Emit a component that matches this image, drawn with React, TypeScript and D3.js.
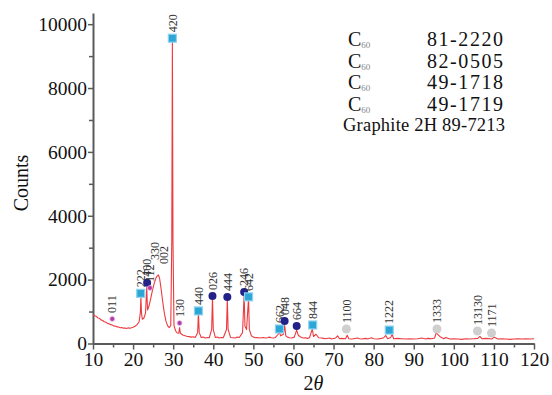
import { useEffect, useRef } from "react";
import * as d3 from "d3";

const WIDTH = 552;
const HEIGHT = 395;
const X_RANGE = [93, 534];
const Y_RANGE = [343.5, 13];
const SERIF = "Liberation Serif";
const AXIS_COLOR = "#5a5a5a";
const LINE_COLOR = "#ec3a3f";
const TICK_FONT_SIZE = "19.5px";
const PEAK_FONT_SIZE = "12px";

// XRD pattern
const TWO_THETA = [
  10, 10.4, 10.8, 11.2, 11.6, 12, 12.4, 12.8, 13.2, 13.6, 14, 14.4, 14.8, 15.2,
  15.6, 16, 16.4, 16.8, 17.2, 17.6, 18, 18.4, 18.8, 19.2, 19.6, 20, 20.5, 21,
  21.5, 21.8, 21.95, 22.1, 22.3, 22.7, 23.1, 23.4, 23.6, 23.9, 24.3, 24.8, 25.3,
  25.8, 26.3, 26.6, 27.0, 27.4, 27.8, 28.2, 28.6, 29.0, 29.4, 29.65, 29.8,
  29.95, 30.2, 30.6, 31.0, 31.4, 31.6, 31.8, 32.5, 33.0, 33.5, 34.0, 34.5, 35.0,
  35.5, 36.1, 36.3, 36.5, 37, 37.5, 38, 38.5, 39, 39.6, 39.8, 40.0, 40.5, 41,
  41.5, 42, 42.5, 43.3, 43.5, 43.7, 44.3, 45, 45.5, 46, 46.5, 47.3, 47.7, 47.9,
  48.3, 48.8, 49.0, 49.5, 50, 50.5, 51, 51.5, 52, 52.5, 53, 53.5, 54, 54.5, 55,
  55.5, 56.2, 56.5, 56.8, 57.5, 57.8, 58.1, 58.5, 59, 59.5, 60.2, 60.8, 61.2,
  61.6, 62, 62.5, 63, 63.5, 64, 64.7, 65, 65.6, 66.3, 67, 67.5, 68, 69, 69.5,
  70.5, 71, 71.5, 72, 73, 73.4, 73.8, 74.5, 75, 76, 76.5, 77, 78, 78.5, 79.5,
  80, 81, 82, 82.5, 83, 83.5, 84, 84.3, 84.6, 85, 86, 87, 88, 89, 90, 91, 92,
  93, 93.5, 94.5, 95.2, 95.6, 96.5, 97.5, 98, 99, 100, 101, 102, 103, 104, 105,
  106, 106.5, 107, 108, 109.5, 110, 111, 112, 113, 114, 115, 116, 117, 118,
  119, 120,
];
const COUNTS = [
  900, 870, 850, 800, 790, 740, 720, 680, 670, 630, 620, 590, 580, 550, 545,
  520, 515, 495, 500, 480, 485, 470, 490, 475, 495, 510, 540, 590, 680, 950,
  1450, 950, 760, 800, 950, 1750, 1050, 1150, 1350, 1650, 1900, 2080, 2150,
  2050, 1700, 1300, 950, 700, 560, 500, 560, 3200, 9500, 3200, 560, 400, 330,
  320, 500, 320, 260, 240, 220, 215, 200, 210, 190, 340, 960, 340, 190, 200,
  170, 190, 180, 440, 1450, 440, 190, 200, 170, 190, 180, 440, 1400, 440, 190,
  180, 170, 200, 190, 340, 1560, 540, 440, 1420, 440, 240, 200, 180, 190, 170,
  180, 190, 170, 180, 200, 180, 170, 190, 290, 360, 240, 290, 560, 240, 200,
  180, 170, 200, 420, 260, 220, 190, 170, 180, 160, 180, 460, 220, 290, 180,
  170, 160, 150, 170, 140, 170, 240, 150, 160, 150, 260, 150, 140, 150, 170,
  150, 140, 160, 140, 180, 150, 140, 160, 180, 250, 150, 170, 200, 290, 150,
  160, 150, 140, 150, 140, 150, 170, 140, 160, 150, 170, 330, 220, 150, 190,
  140, 150, 140, 130, 150, 140, 150, 160, 220, 150, 160, 140, 200, 140, 150,
  140, 130, 140, 150, 140, 150, 140, 150, 140,
];

// indexed reflections
const PEAK_LABELS = [
  "011", "222", "400", "112", "330", "002", "420", "130", "440", "026", "444",
  "246", "642", "662", "048", "664", "844", "1100", "1222", "1333", "13130",
  "1171",
];
const PEAK_THETA = [
  14.8, 21.9, 23.5, 24.2, 25.5, 27.6, 29.8, 31.6, 36.3, 39.8, 43.5, 47.7, 48.8,
  56.5, 57.8, 60.8, 64.8, 73.2, 83.9, 95.8, 105.9, 109.4,
];
const PEAK_COUNTS = [
  770, 1570, 1900, 1740, 2430, 2300, 9560, 640, 1020, 1490, 1460, 1610, 1460,
  455, 705, 550, 580, 455, 420, 455, 390, 330,
];
const PEAK_TYPES = [
  "dot", "square", "circle", "dot", "none", "none", "square", "dot", "square",
  "circle", "circle", "circle", "square", "square", "circle", "circle",
  "square", "gray", "square", "gray", "gray", "gray",
];

const X_TICKS = [10, 20, 30, 40, 50, 60, 70, 80, 90, 100, 110, 120];
const Y_TICKS = [0, 2000, 4000, 6000, 8000, 10000];

const LEGEND_CODES = ["81-2220", "82-0505", "49-1718", "49-1719"];
const GRAPHITE_LABEL = "Graphite 2H 89-7213";

export default function App() {
  const svgRef = useRef<SVGSVGElement>(null);

  useEffect(() => {
    if (!svgRef.current) return;
    const svg = d3.select(svgRef.current);
    svg.selectAll("*").remove();

    const x = d3.scaleLinear().domain([10, 120]).range(X_RANGE);
    const y = d3.scaleLinear().domain([0, 10350]).range(Y_RANGE);

    // minor ticks
    const minorX = d3.range(15, 120, 10);
    const minorY = d3.range(1000, 10001, 2000);

    svg
      .append("g")
      .attr("transform", `translate(0,${Y_RANGE[0]})`)
      .call(d3.axisBottom(x).tickValues(minorX).tickSize(4).tickFormat(() => ""))
      .call((g) => g.select(".domain").remove())
      .call((g) =>
        g.selectAll(".tick line").attr("stroke", AXIS_COLOR).attr("stroke-width", 1.5)
      );

    svg
      .append("g")
      .attr("transform", `translate(${X_RANGE[0]},0)`)
      .call(d3.axisLeft(y).tickValues(minorY).tickSize(4).tickFormat(() => ""))
      .call((g) => g.select(".domain").remove())
      .call((g) =>
        g.selectAll(".tick line").attr("stroke", AXIS_COLOR).attr("stroke-width", 1.5)
      );

    // x-axis
    svg
      .append("g")
      .attr("transform", `translate(0,${Y_RANGE[0]})`)
      .call(d3.axisBottom(x).tickValues(X_TICKS).tickSize(6).tickSizeOuter(0).tickPadding(3))
      .attr("font-family", SERIF)
      .call((g) => g.select(".domain").attr("stroke", AXIS_COLOR).attr("stroke-width", 2))
      .call((g) =>
        g.selectAll(".tick line").attr("stroke", AXIS_COLOR).attr("stroke-width", 1.5)
      )
      .call((g) =>
        g
          .selectAll(".tick text")
          .attr("fill", "#111")
          .attr("font-family", SERIF)
          .attr("font-size", TICK_FONT_SIZE)
      );

    // y-axis
    svg
      .append("g")
      .attr("transform", `translate(${X_RANGE[0]},0)`)
      .call(
        d3
          .axisLeft(y)
          .tickValues(Y_TICKS)
          .tickSize(5)
          .tickSizeOuter(0)
          .tickPadding(1)
          .tickFormat((d) => String(d))
      )
      .attr("font-family", SERIF)
      .call((g) => g.select(".domain").attr("stroke", AXIS_COLOR).attr("stroke-width", 2))
      .call((g) =>
        g.selectAll(".tick line").attr("stroke", AXIS_COLOR).attr("stroke-width", 1.5)
      )
      .call((g) =>
        g
          .selectAll(".tick text")
          .attr("fill", "#111")
          .attr("font-family", SERIF)
          .attr("font-size", TICK_FONT_SIZE)
      );

    // pattern
    const line = d3
      .line<number>()
      .x((d) => x(d))
      .y((_, i) => y(COUNTS[i]));

    svg
      .append("path")
      .attr("d", line(TWO_THETA))
      .attr("fill", "none")
      .attr("stroke", LINE_COLOR)
      .attr("stroke-width", 1.1)
      .attr("stroke-linejoin", "round");

    // peak markers
    const peaks = svg.append("g");
    PEAK_LABELS.forEach((label, i) => {
      const px = x(PEAK_THETA[i]);
      const py = y(PEAK_COUNTS[i]);
      const type = PEAK_TYPES[i];

      if (type === "square") {
        peaks
          .append("rect")
          .attr("x", px - 4)
          .attr("y", py - 4)
          .attr("width", 8)
          .attr("height", 8)
          .attr("fill", "#2ba6d6")
          .attr("stroke", "#8fd3ee")
          .attr("stroke-width", 1.2);
      } else if (type === "circle") {
        peaks
          .append("circle")
          .attr("cx", px)
          .attr("cy", py)
          .attr("r", 4)
          .attr("fill", "#222288");
      } else if (type === "dot") {
        peaks
          .append("circle")
          .attr("cx", px)
          .attr("cy", py)
          .attr("r", 2.4)
          .attr("fill", "#b23aa8")
          .attr("stroke", "#e0a8dc")
          .attr("stroke-width", 0.8);
      } else if (type === "gray") {
        peaks
          .append("circle")
          .attr("cx", px)
          .attr("cy", py)
          .attr("r", 4.5)
          .attr("fill", "#cfcfcf");
      }

      peaks
        .append("text")
        .attr("transform", `translate(${px},${py - 6}) rotate(-90)`)
        .attr("dy", "0.35em")
        .attr("fill", "#333")
        .attr("font-family", SERIF)
        .attr("font-size", PEAK_FONT_SIZE)
        .text(label);
    });

    // legend
    const legend = svg.append("g").attr("font-family", SERIF).attr("fill", "#111");
    LEGEND_CODES.forEach((code, i) => {
      const base = 46 + i * 21.7;
      const c = legend
        .append("text")
        .attr("x", 348)
        .attr("y", base)
        .attr("font-size", "20px");
      c.append("tspan").text("C");
      c.append("tspan")
        .attr("dy", 2)
        .attr("fill", "#888")
        .attr("font-size", "9px")
        .text("60");
      legend
        .append("text")
        .attr("x", 427)
        .attr("y", base)
        .attr("textLength", 76)
        .attr("lengthAdjust", "spacing")
        .attr("font-size", "20px")
        .text(code);
    });
    legend
      .append("text")
      .attr("x", 343)
      .attr("y", 130.5)
      .attr("textLength", 162)
      .attr("lengthAdjust", "spacing")
      .attr("font-size", "18.5px")
      .text(GRAPHITE_LABEL);

    // axis titles
    svg
      .append("text")
      .attr("transform", `translate(28,183) rotate(-90)`)
      .attr("text-anchor", "middle")
      .attr("fill", "#111")
      .attr("font-family", SERIF)
      .attr("font-size", "20px")
      .text("Counts");

    const xt = svg
      .append("text")
      .attr("x", (X_RANGE[0] + X_RANGE[1]) / 2)
      .attr("y", 390)
      .attr("text-anchor", "middle")
      .attr("fill", "#111")
      .attr("font-family", SERIF)
      .attr("font-size", "20px");
    xt.append("tspan").text("2");
    xt.append("tspan").attr("font-style", "italic").text("θ");
  }, []);

  return (
    <svg
      ref={svgRef}
      width={WIDTH}
      height={HEIGHT}
      style={{ position: "absolute", left: 0, top: 0, background: "#fff" }}
    />
  );
}
